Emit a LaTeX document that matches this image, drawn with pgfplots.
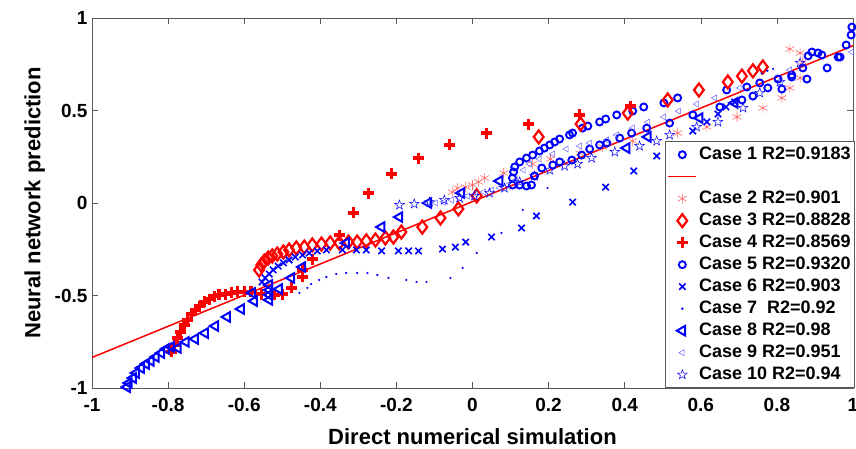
\documentclass[border=0pt]{standalone}
\usepackage{fontspec}
\setmainfont{Liberation Sans}
\usepackage{pgfplots}
\pgfplotsset{compat=1.18}
\usetikzlibrary{plotmarks}

% outline five-pointed star, like the MATLAB pentagram marker
\pgfdeclareplotmark{pentagram}{%
  \pgfpathmoveto{\pgfpointpolar{90}{\pgfplotmarksize}}%
  \pgfpathlineto{\pgfpointpolar{126}{0.4\pgfplotmarksize}}%
  \pgfpathlineto{\pgfpointpolar{162}{\pgfplotmarksize}}%
  \pgfpathlineto{\pgfpointpolar{198}{0.4\pgfplotmarksize}}%
  \pgfpathlineto{\pgfpointpolar{234}{\pgfplotmarksize}}%
  \pgfpathlineto{\pgfpointpolar{270}{0.4\pgfplotmarksize}}%
  \pgfpathlineto{\pgfpointpolar{306}{\pgfplotmarksize}}%
  \pgfpathlineto{\pgfpointpolar{342}{0.4\pgfplotmarksize}}%
  \pgfpathlineto{\pgfpointpolar{18}{\pgfplotmarksize}}%
  \pgfpathlineto{\pgfpointpolar{54}{0.4\pgfplotmarksize}}%
  \pgfpathclose\pgfusepathqstroke}

\definecolor{mblue}{RGB}{0,0,255}
\definecolor{mred}{RGB}{255,0,0}

\begin{document}
\begin{tikzpicture}
\begin{axis}[
  scale only axis,
  width=761pt, height=370pt,
  xmin=-1, xmax=1, ymin=-1, ymax=1,
  xtick={-1,-0.8,...,1}, ytick={-1,-0.5,0,0.5,1},
  tick align=inside, major tick length=6pt,
  axis line style={gray!70!black, line width=0.6pt},
  tick style={gray!70!black, line width=0.6pt},
  ticklabel style={font=\fontsize{19}{22}\selectfont\bfseries,
    /pgf/number format/assume math mode=true},
  xticklabel style={yshift=-7pt},
  yticklabel style={xshift=-1pt},
  xlabel={Direct numerical simulation},
  ylabel={Neural network prediction},
  label style={font=\fontsize{22}{26}\selectfont\bfseries},
  xlabel style={yshift=-10pt},
  ylabel style={yshift=3pt},
  legend style={at={(rel axis cs:1,0)}, anchor=south east, xshift=2pt,
    font=\fontsize{18}{20}\selectfont\bfseries,
    draw=gray!70!black, line width=0.6pt, fill=white,
    row sep=0pt, inner sep=2pt,
    nodes={text height=13.5pt, text depth=4.5pt, inner sep=2pt}},
  legend cell align=left,
  legend image code/.code={\draw[mark repeat=2,mark phase=2,#1]
    plot coordinates {(0pt,0pt) (14pt,0pt) (28pt,0pt)};},
]
% Case 1
\addplot[only marks, mark=o, mark size=3.5pt, mblue, line width=1.9pt] coordinates {
(0.105,0.097) (0.105,0.135) (0.108,0.168) (0.111,0.195) (0.124,0.222) (0.142,0.243)
(0.158,0.259) (0.176,0.281) (0.189,0.297) (0.203,0.314) (0.216,0.330) (0.229,0.346)
(0.255,0.368) (0.263,0.378) (0.289,0.405) (0.303,0.416) (0.334,0.438) (0.350,0.454)
(0.379,0.476) (0.421,0.497) (0.450,0.519) (0.503,0.541) (0.539,0.568) (0.668,0.611)
(0.721,0.627) (0.755,0.649) (0.803,0.670) (0.839,0.692) (0.868,0.730) (0.882,0.795)
(0.892,0.816) (0.908,0.811) (0.918,0.800) (0.961,0.789) (0.982,0.854) (0.995,0.908)
(0.997,0.951)};
\addlegendentry{Case 1 R2=0.9183}
% fitted line
\addplot[mred, line width=1.5pt] coordinates {(-1,-0.835) (1,0.85)};
\addlegendentry{}
% Case 2
\addplot[only marks, mark=asterisk, mark size=5pt, mred!60, line width=0.6pt] coordinates {
(-0.053,0.059) (-0.039,0.081) (-0.018,0.086) (0.000,0.097) (0.016,0.114) (0.032,0.135)
(0.082,0.162) (0.158,0.211) (0.205,0.238) (0.282,0.270) (0.342,0.303) (0.421,0.335)
(0.539,0.378) (0.616,0.411) (0.695,0.465) (0.763,0.514) (0.813,0.568) (0.834,0.622)
(0.861,0.676) (0.868,0.762) (0.861,0.811) (0.834,0.832)};
\addlegendentry{Case 2 R2=0.901}
% Case 3
\addplot[only marks, mark=diamond, mark size=6.5pt, mred, line width=2.2pt] coordinates {
(-0.561,-0.362) (-0.555,-0.335) (-0.547,-0.314) (-0.537,-0.297) (-0.526,-0.286)
(-0.513,-0.276) (-0.497,-0.265) (-0.482,-0.254) (-0.463,-0.243) (-0.442,-0.238)
(-0.421,-0.227) (-0.397,-0.222) (-0.374,-0.216) (-0.350,-0.216) (-0.326,-0.211)
(-0.303,-0.211) (-0.279,-0.205) (-0.255,-0.200) (-0.229,-0.189) (-0.208,-0.184)
(-0.187,-0.157) (-0.132,-0.130) (-0.084,-0.081) (-0.037,-0.032) (0.011,0.038)
(0.174,0.357) (0.284,0.427) (0.408,0.486) (0.513,0.557) (0.595,0.611) (0.671,0.654)
(0.708,0.686) (0.737,0.714) (0.763,0.735)};
\addlegendentry{Case 3 R2=0.8828}
% Case 4
\addplot[only marks, mark=+, mark size=5.5pt, mred, line width=3.2pt] coordinates {
(-0.792,-0.805) (-0.784,-0.768) (-0.776,-0.730) (-0.768,-0.697) (-0.758,-0.659)
(-0.750,-0.632) (-0.739,-0.600) (-0.729,-0.578) (-0.718,-0.557) (-0.705,-0.535)
(-0.692,-0.519) (-0.679,-0.503) (-0.666,-0.497) (-0.650,-0.492) (-0.634,-0.486)
(-0.618,-0.481) (-0.600,-0.481) (-0.582,-0.481) (-0.555,-0.492) (-0.521,-0.497)
(-0.500,-0.492) (-0.476,-0.459) (-0.447,-0.400) (-0.447,-0.362) (-0.421,-0.303)
(-0.350,-0.173) (-0.313,-0.054) (-0.274,0.054) (-0.213,0.157) (-0.142,0.243)
(-0.061,0.314) (0.037,0.378) (0.147,0.427) (0.282,0.476) (0.416,0.524)};
\addlegendentry{Case 4 R2=0.8569}
% Case 5
\addplot[only marks, mark=o, mark size=3.5pt, mblue, line width=1.9pt] coordinates {
(0.124,0.097) (0.142,0.092) (0.155,0.097) (0.163,0.146) (0.182,0.189) (0.211,0.205)
(0.229,0.222) (0.261,0.232) (0.287,0.259) (0.308,0.292) (0.334,0.314) (0.353,0.324)
(0.387,0.351) (0.418,0.378) (0.458,0.405) (0.518,0.432) (0.579,0.476) (0.650,0.519)
(0.708,0.557) (0.737,0.578) (0.776,0.622) (0.813,0.616) (0.839,0.681) (0.879,0.670)
(0.932,0.730) (0.966,0.789)};
\addlegendentry{Case 5 R2=0.9320}
% Case 6
\addplot[only marks, mark=x, mark size=4.5pt, mblue, line width=1.6pt] coordinates {
(-0.553,-0.427) (-0.545,-0.405) (-0.534,-0.384) (-0.524,-0.362) (-0.511,-0.341)
(-0.497,-0.324) (-0.482,-0.308) (-0.466,-0.292) (-0.447,-0.281) (-0.429,-0.270)
(-0.408,-0.259) (-0.384,-0.254) (-0.342,-0.254) (-0.305,-0.254) (-0.279,-0.254)
(-0.239,-0.259) (-0.195,-0.259) (-0.168,-0.259) (-0.142,-0.259) (-0.079,-0.249)
(-0.045,-0.238) (-0.018,-0.211) (0.050,-0.184) (0.129,-0.135) (0.168,-0.070)
(0.263,0.005) (0.350,0.086) (0.424,0.173) (0.484,0.254) (0.579,0.389) (0.616,0.438)
(0.645,0.481) (0.666,0.519) (0.689,0.546)};
\addlegendentry{Case 6 R2=0.903}
% Case 7
\addplot[only marks, mark=*, mark size=0.9pt, mblue] coordinates {
(-0.455,-0.486) (-0.434,-0.459) (-0.424,-0.438) (-0.403,-0.416) (-0.384,-0.400)
(-0.358,-0.384) (-0.332,-0.378) (-0.303,-0.378) (-0.276,-0.378) (-0.250,-0.389)
(-0.221,-0.405) (-0.174,-0.416) (-0.147,-0.427) (-0.121,-0.427) (-0.058,-0.405)
(-0.026,-0.351) (0.011,-0.270) (0.076,-0.162) (0.132,-0.038) (0.197,0.081)
(0.760,0.700) (0.775,0.715) (0.790,0.725)};
\addlegendentry{Case 7\ \ R2=0.92}
% Case 8
\addplot[only marks, mark=triangle, mark size=5.5pt, mark options={rotate=90}, mblue, line width=2pt] coordinates {
(-0.908,-0.995) (-0.903,-0.973) (-0.892,-0.946) (-0.884,-0.919) (-0.871,-0.892)
(-0.858,-0.870) (-0.845,-0.854) (-0.832,-0.832) (-0.818,-0.811) (-0.805,-0.789)
(-0.792,-0.778) (-0.774,-0.784) (-0.753,-0.751) (-0.729,-0.735) (-0.703,-0.703)
(-0.676,-0.665) (-0.645,-0.616) (-0.608,-0.573) (-0.574,-0.530) (-0.579,-0.486)
(-0.534,-0.443) (-0.534,-0.470) (-0.534,-0.497) (-0.534,-0.524)
(-0.508,-0.465) (-0.476,-0.405) (-0.447,-0.346) (-0.332,-0.216) (-0.239,-0.130)
(-0.192,-0.076) (-0.116,0.000) (-0.029,0.054) (0.071,0.119) (0.405,0.297)
(0.461,0.357) (0.597,0.459) (0.689,0.541)};
\addlegendentry{Case 8 R2=0.98}
% Case 9
\addplot[only marks, mark=triangle, mark size=3.5pt, mark options={rotate=90}, mblue!60, line width=0.5pt] coordinates {
(-0.118,0.000) (-0.097,0.000) (-0.076,0.005) (-0.055,0.016) (-0.034,0.027)
(-0.013,0.038) (0.008,0.049) (0.029,0.059) (0.050,0.070) (0.071,0.081) (0.092,0.097)
(0.113,0.124) (0.134,0.178) (0.150,0.211) (0.176,0.238) (0.211,0.265) (0.247,0.292)
(0.282,0.308) (0.308,0.324) (0.353,0.341) (0.379,0.368) (0.421,0.405) (0.461,0.438)
(0.503,0.465) (0.542,0.497) (0.589,0.535) (0.637,0.568) (0.703,0.622) (0.834,0.719)
(0.997,0.816)};
\addlegendentry{Case 9 R2=0.951}
% Case 10
\addplot[only marks, mark=pentagram, mark size=5pt, mblue, line width=0.5pt] coordinates {
(-0.192,-0.011) (-0.153,-0.005) (-0.113,0.005) (-0.074,0.016) (-0.034,0.027)
(0.005,0.038) (0.045,0.054) (0.084,0.081) (0.124,0.114) (0.163,0.146) (0.203,0.178)
(0.242,0.200) (0.276,0.211) (0.313,0.243) (0.374,0.276) (0.439,0.308) (0.484,0.335)
(0.518,0.368) (0.589,0.411) (0.645,0.438) (0.711,0.514) (0.755,0.595) (0.808,0.654)
(0.861,0.757)};
\addlegendentry{Case 10 R2=0.94}
\end{axis}
\pgfresetboundingbox
\path ([shift={(-92pt,-61pt)}]current axis.south west) rectangle ([shift={(3pt,18pt)}]current axis.north east);
\end{tikzpicture}
\end{document}
